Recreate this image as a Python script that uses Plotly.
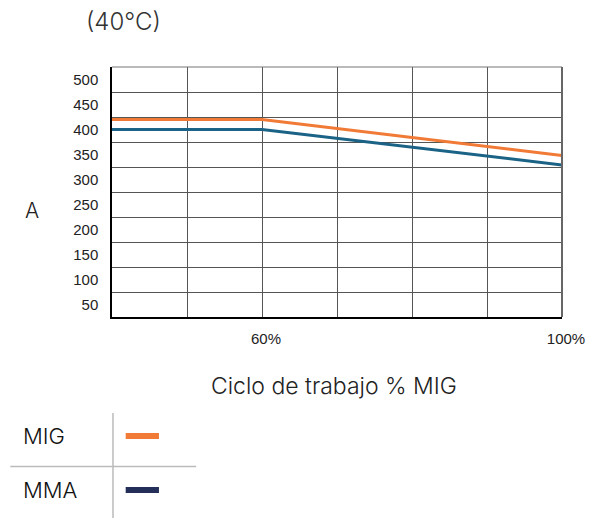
import plotly.graph_objects as go

# ---- data ----
duty_cycle = [40, 60, 100]          # % MIG duty cycle
mig_current = [420, 420, 348]       # A
mma_current = [400, 400, 329]       # A
series_names = ["MIG", "MMA"]
x_grid = [40, 50, 60, 70, 80, 90, 100]
x_ticktext = ["", "", "60%", "", "", "", "100%"]
y_tickvals = [50, 100, 150, 200, 250, 300, 350, 400, 450, 500]
y_gridvals = [75, 125, 175, 225, 275, 325, 375, 425, 475]

ORANGE = "#F07A36"
TEAL = "#1B6386"
NAVY = "#232F58"
GRID = "#555555"

fig = go.Figure()
fig.add_trace(go.Scatter(x=duty_cycle, y=mig_current, mode="lines", name=series_names[0],
                         line=dict(color=ORANGE, width=3)))
fig.add_trace(go.Scatter(x=duty_cycle, y=mma_current, mode="lines", name=series_names[1],
                         line=dict(color=TEAL, width=3)))

fig.update_layout(
    width=597, height=518,
    margin=dict(l=112, r=25, t=67, b=201),
    paper_bgcolor="white", plot_bgcolor="white",
    showlegend=False,
    font=dict(family="Liberation Sans, Arial", size=15, color="#222"),
)
fig.update_xaxes(
    range=[40, 100], tickmode="array", tickvals=x_grid, ticktext=x_ticktext,
    showgrid=True, gridcolor=GRID, gridwidth=1,
    showline=True, linecolor="black", linewidth=1.5,
    ticks="", ticklabelstandoff=7, ticklabelshift=4, zeroline=False,
    tickfont=dict(family="Liberation Sans, Arial", size=15, color="#222"),
)
fig.update_yaxes(
    range=[25, 525], tickmode="array", tickvals=y_tickvals,
    showgrid=False, showline=True, linecolor="black", linewidth=1.5,
    ticks="", ticklabelstandoff=9, zeroline=False,
    minor=dict(tickmode="array", tickvals=y_gridvals, showgrid=True,
               gridcolor=GRID, gridwidth=1, ticks=""),
    tickfont=dict(family="Liberation Sans, Arial", size=15, color="#222"),
)

# frame top/right
fig.add_shape(type="line", xref="paper", yref="paper", x0=0, x1=1, y0=1, y1=1,
              line=dict(color="#777", width=1.2))
fig.add_shape(type="line", xref="paper", yref="paper", x0=1, x1=1, y0=0, y1=1,
              line=dict(color="#666", width=2))

def px(x):
    return (x - 112) / 460

def py(y):
    return (317 - y) / 250

fig.add_annotation(text="(40°C)", xref="paper", yref="paper", x=px(83), y=py(21),
                   xanchor="left", yanchor="middle", showarrow=False,
                   font=dict(family="Inter", size=24, color="#333", weight=300))
fig.add_annotation(text="A", xref="paper", yref="paper", x=px(21), y=py(210),
                   xanchor="left", yanchor="middle", showarrow=False,
                   font=dict(family="Inter", size=21, color="#222", weight=300))
fig.add_annotation(text="Ciclo de trabajo % MIG", xref="paper", yref="paper", x=px(339), y=py(386),
                   xanchor="center", yanchor="middle", showarrow=False,
                   font=dict(family="Inter", size=23, color="#222", weight=300))

# legend table
fig.add_shape(type="line", xref="paper", yref="paper", x0=px(113), x1=px(113), y0=py(413), y1=py(520),
              line=dict(color="#bbbbbb", width=1.5))
fig.add_shape(type="line", xref="paper", yref="paper", x0=px(8), x1=px(198), y0=py(466.5), y1=py(466.5),
              line=dict(color="#bbbbbb", width=1.5))
for name, color, yc in [(series_names[0], ORANGE, 436), (series_names[1], NAVY, 490)]:
    fig.add_annotation(text=name, xref="paper", yref="paper", x=px(19), y=py(yc),
                       xanchor="left", yanchor="middle", showarrow=False,
                       font=dict(family="Inter", size=22, color="#111", weight=300))
    fig.add_shape(type="line", xref="paper", yref="paper", x0=px(126), x1=px(160), y0=py(yc), y1=py(yc),
                  line=dict(color=color, width=6))

fig.write_html(
    "out.html",
    config={"displayModeBar": False},
    post_script="document.body.style.margin='0';document.documentElement.style.overflow='hidden';",
)
